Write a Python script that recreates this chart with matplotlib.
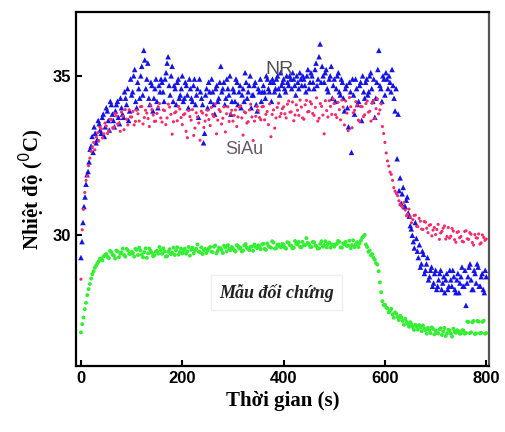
import matplotlib
matplotlib.use("Agg")
import matplotlib.pyplot as plt
import numpy as np

# time axes (s); the logger gives two interleaved sweeps per sample
t_nr = np.arange(0, 801, 4)
t_nr_b = np.arange(2, 800, 4)
t_siau = np.arange(0, 801, 5)
t_siau_b = np.arange(2.5, 800, 5)
t_ctrl = np.arange(0, 801, 5)
t_ctrl_b = np.arange(2.5, 800, 5)

# NR sample (blue triangles), one row = 40 s
temp_nr = [
    29.3, 30.4, 31.2, 31.9, 32.3, 32.8, 32.6, 33.2, 33.0, 33.5,
    33.2, 33.8, 33.4, 33.9, 33.3, 34.1, 33.6, 33.9, 34.2, 33.5,
    34.0, 33.7, 34.3, 34.6, 33.9, 34.4, 35.0, 34.2, 34.8, 34.3,
    35.3, 35.8, 34.6, 35.4, 34.1, 34.7, 34.3, 34.9, 34.0, 34.5,
    34.8, 34.2, 35.1, 35.6, 34.4, 35.3, 34.7, 34.1, 34.9, 34.4,
    35.0, 34.3, 34.7, 34.0, 34.6, 34.2, 34.9, 34.4, 33.7, 34.5,
    34.1, 33.2, 34.6, 34.8, 34.2, 34.5, 33.8, 34.7, 34.3, 35.3,
    34.6, 34.1, 34.9, 34.4, 33.8, 34.6, 34.2, 34.8, 34.5, 34.0,
    34.6, 35.1, 34.3, 34.7, 34.0, 34.4, 34.8, 33.9, 34.5, 34.2,
    34.7, 34.3, 34.9, 34.5, 34.2, 34.8, 34.6, 35.0, 34.4, 34.7,
    34.9, 34.5, 34.8, 35.0, 34.6, 34.9, 34.4, 34.8, 35.1, 34.7,
    34.9, 34.5, 35.2, 34.8, 35.0, 34.6, 35.4, 34.9, 36.0, 35.3,
    34.8, 35.2, 34.5, 35.0, 34.3, 34.9, 34.6, 35.1, 34.4, 34.8,
    33.9, 34.7, 33.4, 34.5, 34.9, 33.8, 34.6, 34.2, 34.8, 35.0,
    34.3, 34.9, 34.5, 35.1, 34.2, 33.7, 34.8, 35.8, 34.6, 35.0,
    34.4, 34.9, 35.0, 34.5, 34.7, 33.9, 32.4, 31.4, 31.0, 31.5,
    30.9, 31.2, 30.6, 30.2, 29.8, 30.4, 29.5, 29.7, 29.1, 29.4,
    28.9, 29.3, 28.7, 29.0, 28.5, 28.9, 28.4, 28.8, 28.3, 28.7,
    28.6, 28.3, 28.9, 28.4, 28.7, 28.2, 28.8, 28.5, 29.0, 28.4,
    27.8, 28.7, 29.1, 28.3, 28.9, 28.5, 29.0, 28.4, 28.8, 28.2,
    28.7,
]
temp_nr_b = [
    29.8, 30.9, 31.6, 32.0, 32.7, 33.1, 33.4, 32.9, 33.6, 33.3,
    33.7, 33.1, 34.0, 33.6, 34.2, 33.8, 33.4, 34.1, 33.7, 34.3,
    33.8, 34.5, 34.1, 33.6, 34.9, 34.5, 35.2, 34.0, 34.6, 35.0,
    34.4, 35.5, 34.9, 34.3, 34.8, 33.9, 34.6, 34.2, 34.7, 34.9,
    34.5, 34.9, 35.4, 34.7, 35.0, 34.2, 34.6, 34.8, 34.3, 34.6,
    34.2, 34.8, 34.4, 34.9, 34.3, 34.7, 34.1, 34.6, 34.9, 34.3,
    32.9, 34.4, 34.0, 34.5, 34.9, 34.1, 34.6, 34.2, 34.8, 34.5,
    34.8, 34.3, 34.6, 35.0, 34.2, 34.5, 34.9, 34.1, 34.7, 34.4,
    34.2, 34.8, 34.5, 35.0, 34.4, 34.7, 34.1, 34.6, 34.9, 34.5,
    34.5, 35.0, 34.6, 34.8, 34.9, 34.5, 34.9, 34.6, 35.1, 34.8,
    34.6, 35.0, 34.7, 34.9, 35.1, 34.7, 35.0, 34.6, 34.9, 35.0,
    34.7, 35.0, 34.6, 35.1, 34.8, 35.2, 34.7, 35.6, 34.8, 35.0,
    35.1, 34.6, 34.9, 35.3, 34.7, 34.2, 35.0, 34.5, 34.9, 34.3,
    34.6, 34.0, 34.8, 32.6, 34.4, 34.9, 34.1, 34.7, 33.6, 34.5,
    34.8, 34.4, 35.0, 34.6, 34.9, 34.3, 35.2, 34.7, 34.2, 34.9,
    35.1, 34.6, 34.8, 35.2, 34.3, 34.6, 33.8, 31.8, 31.3, 30.9,
    31.1, 30.7, 30.3, 30.0, 29.6, 29.9, 29.3, 29.0, 29.5, 28.8,
    29.1, 28.6, 28.9, 28.4, 28.8, 28.3, 28.6, 28.9, 28.5, 28.2,
    28.8, 28.4, 28.6, 28.9, 28.3, 28.6, 28.2, 28.7, 28.4, 28.9,
    28.5, 29.0, 28.6, 28.3, 28.8, 29.1, 28.4, 28.7, 28.3, 28.9,
]

# SiAu sample (pink dots), one row = 50 s
temp_siau = [
    28.62, 30.81, 31.72, 32.18, 32.63, 32.91, 33.08, 32.97, 33.34, 33.18,
    33.42, 33.27, 33.63, 33.38, 33.74, 33.52, 33.86, 33.31, 33.64, 33.93,
    33.71, 33.46, 33.92, 33.58, 34.04, 33.69, 33.83, 33.41, 33.94, 33.57,
    33.82, 34.13, 33.55, 33.91, 33.68, 34.02, 33.17, 33.84, 33.59, 33.96,
    33.47, 33.81, 33.06, 33.72, 33.94, 33.36, 33.71, 32.98, 33.83, 33.58,
    33.92, 33.44, 33.79, 34.12, 33.61, 33.88, 33.67, 33.24, 34.03, 33.81,
    33.58, 33.93, 33.71, 34.06, 33.14, 33.84, 33.56, 34.11, 32.97, 33.73,
    33.91, 33.62, 34.04, 33.79, 33.47, 33.09, 33.93, 33.68, 34.14, 33.82,
    34.03, 33.68, 34.21, 33.87, 33.59, 34.09, 33.76, 34.02, 33.64, 34.23,
    33.88, 34.12, 33.76, 34.31, 33.67, 34.04, 33.18, 33.91, 34.22, 33.79,
    34.13, 33.69, 33.94, 34.24, 33.46, 33.83, 34.32, 33.37, 33.92, 34.08,
    33.57, 34.03, 33.78, 34.21, 33.89, 34.14, 33.66, 34.28, 33.93, 33.41,
    32.91, 32.33, 31.98, 31.72, 31.38, 31.24, 30.97, 30.88, 30.79, 30.66,
    30.58, 30.49, 30.63, 30.27, 30.44, 30.18, 30.41, 30.08, 30.33, 30.16,
    30.02, 30.34, 30.07, 30.22, 29.88, 30.24, 29.97, 30.13, 29.78, 30.11,
    29.96, 29.79, 30.14, 29.87, 30.03, 29.69, 29.92, 30.04, 29.76, 29.93,
    29.88,
]
temp_siau_b = [
    30.17, 31.34, 31.86, 32.42, 32.77, 32.68, 33.21, 33.39, 33.06, 33.52,
    33.19, 33.64, 33.37, 33.82, 33.48, 33.26, 33.73, 33.94, 33.46, 33.71,
    33.88, 33.57, 33.81, 34.03, 33.49, 33.92, 33.66, 34.08, 33.77, 33.58,
    34.02, 33.68, 33.93, 33.47, 34.11, 33.79, 33.56, 33.87, 34.04, 33.69,
    33.78, 33.26, 33.91, 33.61, 33.13, 33.84, 33.52, 33.89, 33.38, 33.77,
    33.63, 34.01, 33.72, 33.18, 33.94, 33.49, 34.03, 33.81, 33.57, 33.92,
    33.76, 33.41, 34.02, 33.68, 33.87, 33.52, 33.93, 33.71, 33.58, 34.04,
    33.69, 34.03, 33.62, 33.88, 34.12, 33.79, 33.36, 34.01, 33.72, 33.97,
    33.81, 34.11, 33.86, 34.18, 33.77, 33.92, 34.24, 33.68, 34.09, 33.87,
    34.19, 33.82, 34.01, 33.58, 34.13, 33.77, 34.22, 33.71, 34.04, 34.28,
    33.78, 34.17, 33.62, 34.02, 34.21, 33.28, 34.03, 33.84, 34.19, 33.61,
    34.04, 33.72, 34.13, 33.86, 33.58, 34.23, 33.97, 33.81, 34.12, 33.19,
    32.58, 32.17, 31.91, 31.49, 31.31, 31.08, 30.92, 31.03, 30.61, 30.82,
    30.39, 30.62, 30.28, 30.53, 30.19, 30.43, 30.22, 30.31, 29.98, 30.24,
    30.18, 29.87, 30.12, 30.29, 29.96, 29.91, 30.21, 29.86, 30.09, 29.92,
    29.81, 30.12, 29.89, 30.08, 29.77, 30.02, 29.91, 29.72, 30.01, 29.84,
]

# control sample (green dots), one row = 50 s
temp_ctrl = [
    26.95, 27.42, 27.88, 28.31, 28.64, 28.87, 29.05, 29.18, 29.27, 29.34,
    29.41, 29.28, 29.47, 29.36, 29.52, 29.31, 29.46, 29.38, 29.57, 29.42,
    29.48, 29.33, 29.54, 29.61, 29.39, 29.47, 29.29, 29.58, 29.44, 29.37,
    29.51, 29.63, 29.42, 29.49, 29.34, 29.56, 29.45, 29.38, 29.62, 29.47,
    29.43, 29.58, 29.49, 29.36, 29.61, 29.52, 29.71, 29.46, 29.41, 29.57,
    29.52, 29.63, 29.47, 29.68, 29.51, 29.59, 29.44, 29.62, 29.69, 29.53,
    29.58, 29.49, 29.66, 29.61, 29.52, 29.72, 29.57, 29.64, 29.51, 29.63,
    29.68, 29.56, 29.73, 29.54, 29.66, 29.61, 29.77, 29.59, 29.71, 29.62,
    29.69, 29.58, 29.76, 29.67, 29.61, 29.73, 29.79, 29.62, 29.68, 29.91,
    29.72, 29.63, 29.78, 29.66, 29.59, 29.81, 29.69, 29.62, 29.77, 29.71,
    29.64, 29.73, 29.79, 29.61, 29.72, 29.66, 29.83, 29.69, 29.63, 29.78,
    29.74, 29.92, 30.01, 29.63, 29.52, 29.41, 29.23, 29.08, 28.52, 27.93,
    27.82, 27.71, 27.63, 27.52, 27.58, 27.43, 27.47, 27.31, 27.38, 27.22,
    27.27, 27.12, 27.19, 27.04, 27.11, 27.17, 27.02, 27.09, 26.93, 27.06,
    27.01, 26.92, 27.08, 26.98, 26.84, 27.03, 26.91, 27.07, 26.94, 26.99,
    26.92, 27.01, 26.93, 27.28, 26.95, 27.31, 26.92, 27.29, 26.94, 27.32,
    26.93,
]
temp_ctrl_b = [
    27.21, 27.68, 28.12, 28.47, 28.78, 28.98, 29.12, 29.26, 29.21, 29.38,
    29.32, 29.51, 29.39, 29.27, 29.49, 29.42, 29.58, 29.33, 29.53, 29.41,
    29.44, 29.57, 29.38, 29.52, 29.31, 29.59, 29.43, 29.51, 29.34, 29.48,
    29.42, 29.53, 29.59, 29.33, 29.48, 29.41, 29.61, 29.52, 29.39, 29.58,
    29.51, 29.42, 29.63, 29.54, 29.43, 29.57, 29.49, 29.62, 29.53, 29.44,
    29.59, 29.48, 29.64, 29.43, 29.61, 29.54, 29.67, 29.49, 29.58, 29.63,
    29.53, 29.69, 29.58, 29.49, 29.68, 29.61, 29.53, 29.64, 29.71, 29.59,
    29.62, 29.71, 29.57, 29.74, 29.63, 29.81, 29.58, 29.69, 29.64, 29.73,
    29.61, 29.78, 29.68, 29.59, 29.82, 29.71, 29.63, 29.79, 29.69, 29.76,
    29.63, 29.79, 29.68, 29.58, 29.73, 29.64, 29.81, 29.72, 29.61, 29.69,
    29.71, 29.82, 29.62, 29.74, 29.79, 29.68, 29.59, 29.84, 29.71, 29.63,
    29.83, 29.96, 29.71, 29.48, 29.37, 29.29, 29.12, 28.87, 28.21, 27.81,
    27.73, 27.58, 27.69, 27.41, 27.53, 27.34, 27.42, 27.19, 27.28, 27.13,
    27.21, 27.03, 27.14, 27.18, 26.99, 27.08, 26.91, 27.02, 27.11, 26.89,
    26.93, 27.04, 26.87, 27.09, 26.92, 27.01, 26.82, 26.97, 27.02, 26.91,
    27.02, 26.91, 27.29, 26.93, 27.27, 26.90, 27.31, 26.92, 27.28, 26.91,
]

fig = plt.figure(figsize=(5.06, 4.32), dpi=100)
ax = fig.add_axes([0.150, 0.153, 0.816, 0.819])

blue = "#1414e6"
pink = "#f52a6a"
green = "#33ee33"
ax.scatter(t_nr, temp_nr, marker="^", s=16, color=blue, edgecolors="none", zorder=3)
ax.scatter(t_nr_b, temp_nr_b, marker="^", s=16, color=blue, edgecolors="none", zorder=3)
ax.scatter(t_siau, temp_siau, marker="o", s=5, color=pink, edgecolors="none", zorder=4)
ax.scatter(t_siau_b, temp_siau_b, marker="o", s=5, color=pink, edgecolors="none", zorder=4)
ax.scatter(t_ctrl, temp_ctrl, marker="o", s=8, color=green, edgecolors="none", zorder=3)
ax.scatter(t_ctrl_b, temp_ctrl_b, marker="o", s=8, color=green, edgecolors="none", zorder=3)

ax.set_xlim(-10, 805)
ax.set_ylim(25.9, 37)
ax.set_xticks([0, 200, 400, 600, 800])
ax.set_yticks([30, 35])
ax.tick_params(direction="in", length=4, width=1.5)
for lab in ax.get_xticklabels() + ax.get_yticklabels():
    lab.set_fontfamily("Liberation Sans")
    lab.set_fontweight("bold")
    lab.set_fontsize(12)
for sp in ax.spines.values():
    sp.set_linewidth(1.6)
ax.spines["right"].set_color("#555555")

ax.set_xlabel("Thời gian (s)", family="Liberation Serif", fontweight="bold", fontsize=15)
ax.set_ylabel("Nhiệt độ ($^0$C)", family="Liberation Serif", fontweight="bold", fontsize=15)

ax.text(392, 35.2, "NR", family="Liberation Sans", fontsize=14, color="#505050",
        ha="center", va="center", zorder=5)
ax.text(323, 32.7, "SiAu", family="Liberation Sans", fontsize=13, color="#6a5868",
        ha="center", va="center", zorder=5)
ax.text(386, 28.2, "Mẫu đối chứng", family="Liberation Serif", fontsize=13,
        fontweight="bold", style="italic", color="#222222", ha="center", va="center",
        bbox=dict(facecolor="white", edgecolor="#eeeeee", pad=6))

fig.savefig("out.png", dpi=100)
